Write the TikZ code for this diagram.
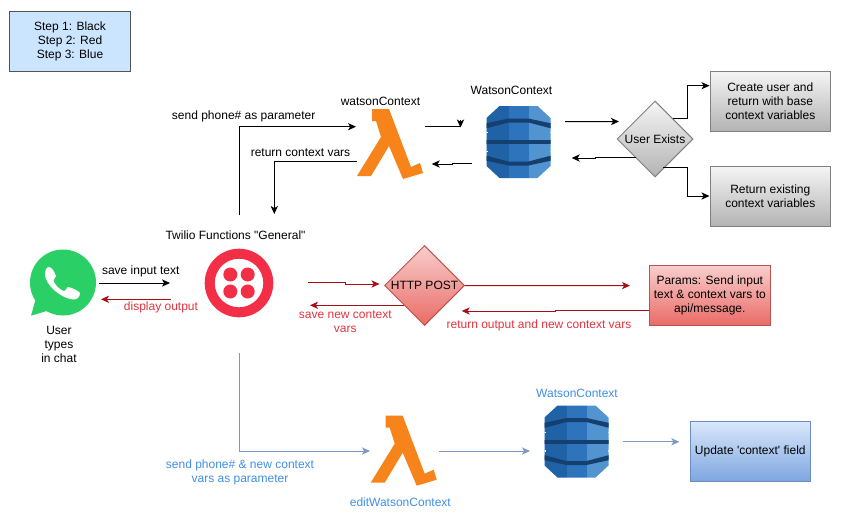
\documentclass[tikz,border=0pt]{standalone}
\usepackage{fontspec}
\newfontfamily\plainf{Liberation Sans}
\usetikzlibrary{shapes.geometric,arrows.meta,calc}
\definecolor{arrRed}{HTML}{A80F14}
\definecolor{txtRed}{HTML}{E5343F}
\definecolor{txtBlue}{HTML}{3F90E6}
\definecolor{arrBlue}{HTML}{7F97C4}
\definecolor{lamOr}{HTML}{F7841B}
\definecolor{dbL}{HTML}{1F62A6}
\definecolor{dbM}{HTML}{2D74BC}
\definecolor{dbR}{HTML}{5294CF}
\definecolor{dbD}{HTML}{153F6F}
\definecolor{legFill}{HTML}{CCE5FF}
\definecolor{legLine}{HTML}{50555A}
\definecolor{grayLine}{HTML}{808080}
\definecolor{grayTop}{HTML}{F5F5F5}
\definecolor{grayBot}{HTML}{B3B3B3}
\definecolor{redTop}{HTML}{F8CECC}
\definecolor{redBot}{HTML}{EA6B66}
\definecolor{redLine}{HTML}{B85450}
\definecolor{bluTop}{HTML}{DAE8FC}
\definecolor{bluBot}{HTML}{7EA6E0}
\definecolor{bluLine}{HTML}{6C8EBF}
\definecolor{waGreen}{HTML}{2AD065}
\definecolor{twRed}{HTML}{F22F46}
\tikzset{
  every node/.style={font=\plainf\fontsize{9}{10.5}\selectfont,inner sep=0pt,align=center},
  tip/.style={-{Stealth[length=6pt,width=5.4pt,inset=1.6pt]}},
  blk/.style={tip,draw=black,line width=0.75pt},
  redl/.style={tip,draw=arrRed,line width=0.75pt},
  blul/.style={tip,draw=arrBlue,line width=0.75pt},
  grayfill/.style={draw=grayLine,line width=0.75pt,top color=grayTop,bottom color=grayBot},
  redfill/.style={draw=redLine,line width=0.75pt,top color=redTop,bottom color=redBot},
  blufill/.style={draw=bluLine,line width=0.75pt,top color=bluTop,bottom color=bluBot},
  box/.style={rectangle,minimum width=120.5*0.75pt,minimum height=60*0.75pt},
  dia/.style={diamond,aspect=1},
  icon/.style={minimum width=10pt,minimum height=10pt},
  redtxt/.style={text=txtRed},
  blutxt/.style={text=txtBlue},
  lambda/.pic={
    \fill[lamOr] (-16,-35) -- (1,-35) -- (23,23) -- (32,19) -- (35,29) -- (15,35) -- (1,2) -- (-17,32) -- (-31,32) -- (-7,-7) -- (-12,-23) -- (-16,-23) -- cycle;
  },
  dynamo/.pic={
    \begin{scope}
    \clip (-19,-36) -- (19,-36) -- (32,-24) -- (32,24) -- (19,36) -- (-19,36) -- (-32,24) -- (-32,-24) -- cycle;
    \fill[dbL] (-33,-37) rectangle (-10,37);
    \fill[dbM] (-10,-37) rectangle (10,37);
    \fill[dbR] (10,-37) rectangle (33,37);
    \fill[dbD] (-33,-18.5) -- (-10,-23.5) -- (10,-23.5) -- (33,-18.5) -- (33,-13.5) -- (10,-19.5) -- (-10,-19.5) -- (-33,-13.5) -- cycle;
    \fill[dbD] (-33,18.5) -- (-10,23.5) -- (10,23.5) -- (33,18.5) -- (33,13.5) -- (10,19.5) -- (-10,19.5) -- (-33,13.5) -- cycle;
    \fill[dbD] (-33,-2) -- (33,-2) -- (33,2) -- (-33,2) -- cycle;
    \fill[white] (-33,-10) rectangle (-31,-8.8);
    \fill[white] (31,-10) rectangle (33,-8.8);
    \fill[white] (-33,8.8) rectangle (-31,10);
    \fill[white] (31,8.8) rectangle (33,10);
    \end{scope}
  }
}
\begin{document}
\begin{tikzpicture}[x=0.75pt,y=-0.75pt]
\fill[white] (0,0) rectangle (841,518);
\useasboundingbox (0,0) rectangle (841,518);

% legend
\node[box,draw=legLine,line width=0.75pt,fill=legFill] (legend) at (70,41) {Step 1: Black\\Step 2: Red\\Step 3: Blue};

% whatsapp
\node[icon] (wa) at (63,283) {};
\fill[waGreen] (63,282.5) circle[radius=33];
\fill[waGreen] (36,298) -- (31,315.7) -- (50,310) -- cycle;
\fill[white] (49,267) .. controls (52,267) and (55,273) .. (56,276)
  .. controls (56,278) and (53,279) .. (53.5,281)
  .. controls (55,285) and (60,290) .. (64,291)
  .. controls (66,291) and (67,286) .. (69,287)
  .. controls (72,288) and (79,291) .. (80,293)
  .. controls (80,297) and (77,300) .. (73,299.5)
  .. controls (60,298) and (46,285) .. (45,275)
  .. controls (45,271) and (46,267) .. (49,267) -- cycle;

% twilio
\node[icon] (tw) at (239,283) {};
\fill[twRed,even odd rule] (239,283) circle[radius=34.3] (239,283) circle[radius=24.3];
\foreach \dx/\dy in {-8.7/-8.5,8.7/-8.5,-8.7/8.5,8.7/8.5}
  \fill[twRed] (239+\dx,283+\dy) circle[radius=7];

% icons
\node[icon] (lam1) at (388,144) {};
\node[icon] (lam2) at (401.7,450.7) {};
\node[icon] (db1) at (518.5,142) {};
\node[icon] (db2) at (576.5,441.5) {};
\pic at (lam1) {lambda};
\pic at (lam2) {lambda};
\pic at (db1) {dynamo};
\pic at (db2) {dynamo};

% shapes
\node[dia,grayfill,minimum width=76*0.75pt,minimum height=76*0.75pt] (ue) at (655,139) {User Exists};
\node[box,grayfill] (create) at (770.3,101) {Create user and\\return with base\\context variables};
\node[box,grayfill] (ret) at (770.3,196) {Return existing\\context variables};
\node[dia,redfill,minimum width=80*0.75pt,minimum height=80*0.75pt] (http) at (424.5,285.5) {HTTP POST};
\node[box,redfill] (params) at (709.8,295.3) {Params: Send input\\text \& context vars to\\api/message.};
\node[box,blufill] (upd) at (750.3,451) {Update 'context' field};

% text labels
\node (t1) at (243.7,116.7) {send phone\# as parameter};
\node (t2) at (300.5,152.7) {return context vars};
\node (t3) at (380.5,101.7) {watsonContext};
\node (t4) at (511.5,90.7) {WatsonContext};
\node (t5) at (235.5,235.7) {Twilio Functions "General"};
\node (t6) at (140.7,271.7) {save input text};
\node[redtxt] (t7) at (161,307.7) {display output};
\node (t8) at (59,344.7) {User\\types\\in chat};
\node[redtxt] (t9) at (345.3,322) {save new context\\vars};
\node[redtxt] (t10) at (539,325) {return output and new context vars};
\node[blutxt] (t11) at (240,472) {send phone\# \& new context\\vars as parameter};
\node[blutxt] (t12) at (577,393.3) {WatsonContext};
\node[blutxt] (t13) at (400.3,502.7) {editWatsonContext};

% free connector ends
\coordinate (sendS) at (239,215);
\coordinate (sendC) at (239,126.7);
\coordinate (sendE) at (356,126.7);
\coordinate (retS) at (356.7,161.7);
\coordinate (retC) at (274.3,161.7);
\coordinate (retE) at (274.3,214);
\coordinate (lamOutS) at (425,126.5);
\coordinate (lamOutC) at (460.5,126.5);
\coordinate (lamOutH) at (460.5,120);
\coordinate (lamOutE) at (460.5,127.5);
\coordinate (dbBackS) at (472.3,163.3);
\coordinate (dbBackE) at (431.7,164);
\coordinate (dbOutS) at (565,121.7);
\coordinate (dbOutE) at (619,121.5);
\coordinate (ueBackS) at (636,157.3);
\coordinate (ueBackE) at (571.7,158);
\coordinate (ueUp) at (673,118.7);
\coordinate (ueUpC) at (687,118.7);
\coordinate (ueDown) at (663,167);
\coordinate (ueDownC) at (687,167);
\coordinate (crIn) at (709.5,85.7);
\coordinate (reIn) at (709.5,196);
\coordinate (saveS) at (99,283);
\coordinate (saveE) at (170,283);
\coordinate (dispS) at (170.7,299.3);
\coordinate (dispE) at (101,299.3);
\coordinate (postS) at (308.3,282.7);
\coordinate (postE) at (379.5,284);
\coordinate (parE) at (630,285.6);
\coordinate (parB) at (649.3,310);
\coordinate (parBE) at (461.7,311);
\coordinate (newS) at (404.3,305.3);
\coordinate (newE) at (310,305.3);
\coordinate (bluS) at (239,352.7);
\coordinate (bluC) at (239,451);
\coordinate (bluE) at (370,451);
\coordinate (l2S) at (439,451);
\coordinate (l2E) at (530,451);
\coordinate (d2S) at (622.7,441.8);
\coordinate (d2E) at (679.3,441.8);

% connectors
\draw[blk] (sendS) -- (sendC) -- (sendE);
\draw[blk] (retS) -- (retC) -- (retE);
\draw[draw=black,line width=0.75pt] (lamOutS) -- (lamOutC);
\draw[blk] (lamOutH) -- (lamOutE);
\draw[blk] (dbBackS) -- (452,163.3) -- (452,164) -- (dbBackE);
\draw[blk] (dbOutS) -- (dbOutE);
\draw[blk] (ueBackS) -- (595,157.3) -- (595,158) -- (ueBackE);
\draw[blk] (ueUp) -- (ueUpC) -- (687,85.7) -- (crIn);
\draw[blk] (ueDown) -- (ueDownC) -- (687,196) -- (reIn);
\draw[blk] (saveS) -- (saveE);
\draw[redl] (dispS) -- (dispE);
\draw[redl] (postS) -- (345,282.7) -- (345,284) -- (postE);
\draw[redl] (http.east) -- (parE);
\draw[redl] (parB) -- (555,310) -- (555,311) -- (parBE);
\draw[redl] (newS) -- (newE);
\draw[blul] (bluS) -- (bluC) -- (bluE);
\draw[blul] (l2S) -- (l2E);
\draw[blul] (d2S) -- (d2E);
\end{tikzpicture}
\end{document}
